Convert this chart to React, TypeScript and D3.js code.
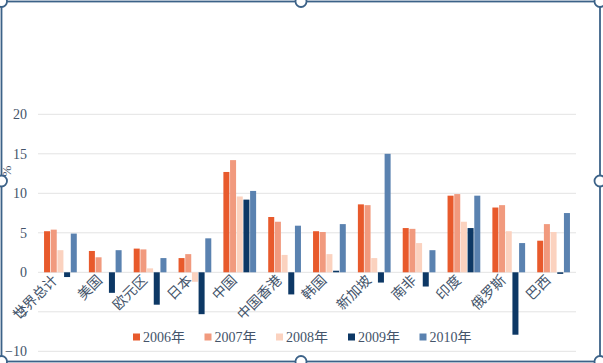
import React from "react";
import * as d3 from "d3";

const categories = ["世界总计", "美国", "欧元区", "日本", "中国", "中国香港", "韩国", "新加坡", "南非", "印度", "俄罗斯", "巴西"];
const seriesNames = ["2006年", "2007年", "2008年", "2009年", "2010年"];
const v2006 = [5.2, 2.7, 3.0, 1.8, 12.7, 7.0, 5.2, 8.6, 5.6, 9.7, 8.2, 4.0];
const v2007 = [5.4, 1.9, 2.9, 2.3, 14.2, 6.4, 5.1, 8.5, 5.5, 9.9, 8.5, 6.1];
const v2008 = [2.8, 0.0, 0.5, -1.2, 9.6, 2.2, 2.3, 1.8, 3.7, 6.4, 5.2, 5.1];
const v2009 = [-0.6, -2.6, -4.1, -5.3, 9.2, -2.8, 0.2, -1.3, -1.8, 5.6, -7.9, -0.2];
const v2010 = [4.9, 2.8, 1.8, 4.3, 10.3, 5.9, 6.1, 15.0, 2.8, 9.7, 3.7, 7.5];
const yTicks = [-10, -5, 0, 5, 10, 15, 20];
const colors = ["#E85A2C", "#F19A7E", "#FBD2BF", "#0D3865", "#5A82B0"];

const W = 603;
const H = 363;
const plotLeft = 38;
const plotRight = 576;

export default function App() {
  const series = [v2006, v2007, v2008, v2009, v2010];
  const y = d3.scaleLinear().domain([-10, 20]).range([351.3, 114.3]);
  const x0 = d3.scaleBand<string>().domain(categories).range([plotLeft, plotRight]).paddingInner(0.24).paddingOuter(0.12);
  const x1 = d3.scaleBand<number>().domain(d3.range(seriesNames.length)).range([0, x0.bandwidth()]).padding(0.1);
  const textColor = "#44546A";
  const font = "'Liberation Serif', 'Noto Sans CJK SC', serif";
  const cjkFont = "'Noto Sans CJK SC', 'Liberation Serif', serif";
  const frame = "#3C6288";
  const handles = [
    [1.5, 1.5], [301, 1.5], [600, 1.5],
    [1.5, 181], [600, 181],
    [1.5, 361.5], [301, 361.5], [600, 361.5],
  ];
  const legendX = [133, 204.5, 276, 348, 419.5];
  return (
    <div style={{ position: "absolute", left: 0, top: 0 }}>
      <svg width={W} height={H} style={{ display: "block", background: "#fff" }}>
        <rect x={1.5} y={1.5} width={598.5} height={360} fill="#fff" stroke={frame} strokeWidth={1.8} />
        {yTicks.map((t) => (
          <g key={t}>
            <line x1={plotLeft} x2={plotRight} y1={y(t)} y2={y(t)} stroke="#E3E3E3" strokeWidth={1} />
            <text x={27} y={y(t) + 5} textAnchor="end" fontSize={14} fontFamily={font} fill={textColor}>
              {t < 0 ? "\u2212" + Math.abs(t) : t}
            </text>
          </g>
        ))}
        <text transform={`translate(11,171) rotate(-90)`} textAnchor="middle" fontSize={13} fontFamily={font} fill={textColor}>%</text>
        {categories.map((c, i) => (
          <g key={c} transform={`translate(${x0(c)},0)`}>
            {series.map((s, j) => (
              <rect key={j} x={x1(j)} width={x1.bandwidth()} y={y(Math.max(0, s[i]))}
                height={Math.max(Math.abs(y(s[i]) - y(0)), s[i] === 0 ? 0 : 1)} fill={colors[j]} />
            ))}
          </g>
        ))}
        {categories.map((c) => {
          const cx = (x0(c) as number) + x0.bandwidth() / 2;
          return (
            <text key={c} transform={`translate(${cx - 2},${281}) rotate(-45)`} textAnchor="end" fontSize={14}
              fontFamily={cjkFont} fill={textColor}>
              {c}
            </text>
          );
        })}
        {seriesNames.map((n, j) => (
          <g key={n} transform={`translate(${legendX[j]},0)`}>
            <rect x={0} y={333.5} width={7} height={7} fill={colors[j]} />
            <text x={10} y={342} fontSize={14} fontFamily={font} fill={textColor}>
              {n.slice(0, 4)}
              <tspan fontFamily={cjkFont}>{n.slice(4)}</tspan>
            </text>
          </g>
        ))}
        {handles.map(([hx, hy], k) => (
          <circle key={k} cx={hx} cy={hy} r={5.5} fill="#fff" stroke={frame} strokeWidth={1.8} />
        ))}
      </svg>
    </div>
  );
}
